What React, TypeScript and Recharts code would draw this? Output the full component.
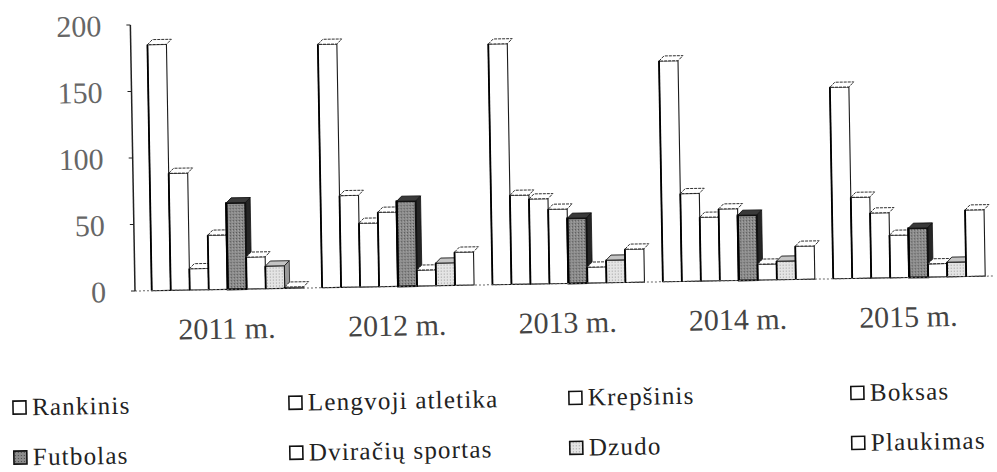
import React from 'react';
import { BarChart, Bar, XAxis, YAxis } from 'recharts';

const years = ['2011 m.', '2012 m.', '2013 m.', '2014 m.', '2015 m.'];
const rankinis = [185, 183, 181, 166, 144];
const lengvoji = [88, 69, 67, 66, 61];
const krepsinis = [16, 48, 64, 48, 49];
const boksas = [41, 56, 56, 54, 32];
const futbolas = [65, 64, 49, 49, 37];
const dviraciu = [24, 12, 12, 12, 10];
const dzudo = [17, 17, 17, 14, 11];
const plaukimas = [1, 25, 25, 25, 50];
const yTicks = [0, 50, 100, 150, 200];

const seriesNames = ['Rankinis', 'Lengvoji atletika', 'Krepšinis', 'Boksas', 'Futbolas', 'Dviračių sportas', 'Dzudo', 'Plaukimas'];
const seriesKeys = ['rankinis', 'lengvoji', 'krepsinis', 'boksas', 'futbolas', 'dviraciu', 'dzudo', 'plaukimas'];
const seriesValues = [rankinis, lengvoji, krepsinis, boksas, futbolas, dviraciu, dzudo, plaukimas];

const whiteStyle = { kind: 'white', front: '#ffffff', top: '#ffffff', side: '#ffffff', stroke: '#1a1a1a' };
const darkStyle = { kind: 'dark', front: 'url(#darkDots)', top: '#3a3a3a', side: '#262626', stroke: '#111111' };
const lightStyle = { kind: 'light', front: 'url(#lightDots)', top: '#c4c4c4', side: '#9a9a9a', stroke: '#1a1a1a' };
const seriesStyles = [whiteStyle, whiteStyle, whiteStyle, whiteStyle, darkStyle, whiteStyle, lightStyle, whiteStyle];

const data = years.map((year, i) => {
  const row: Record<string, string | number> = { year };
  seriesKeys.forEach((k, s) => {
    row[k] = seriesValues[s][i];
  });
  return row;
});

const FONT = 'Liberation Serif';
const DX = 5;
const DY = 5;

function Box3D(props: any) {
  const { x, y, width, height, look } = props;
  if (x == null || y == null) return null;
  const w = width;
  const h = Math.max(height, 0);
  const top = `${x},${y} ${x + DX},${y - DY} ${x + w + DX},${y - DY} ${x + w},${y}`;
  const side = `${x + w},${y} ${x + w + DX},${y - DY} ${x + w + DX},${y + h - DY} ${x + w},${y + h}`;
  const heavy = look.kind === 'dark';
  const white = look.kind === 'white';
  return (
    <g>
      <polygon points={side} fill={look.side} stroke={white ? 'none' : look.stroke} strokeWidth={0.8} />
      <rect x={x} y={y} width={w} height={h} fill={look.front} stroke={look.stroke} strokeWidth={heavy ? 2 : 1.1} />
      <polygon points={top} fill={look.top} stroke={look.stroke} strokeWidth={0.9} strokeDasharray={white ? '3 1' : undefined} />
      <line x1={x} y1={y} x2={x} y2={y + h} stroke="#000" strokeWidth={heavy ? 2.2 : 1.8} />
    </g>
  );
}

const legendCols = [10, 286, 566, 848];
const legendRows = [405.5, 455.5];

function LegendBlock() {
  return (
    <svg width={997} height={472} style={{ position: 'absolute', left: 0, top: 0, pointerEvents: 'none' }}>
      <defs>
        <pattern id="darkDotsL" width="3" height="3" patternUnits="userSpaceOnUse">
          <rect width="3" height="3" fill="#8c8c8c" />
          <rect x="0" y="0" width="1" height="1" fill="#4a4a4a" />
        </pattern>
        <pattern id="lightDotsL" width="3" height="3" patternUnits="userSpaceOnUse">
          <rect width="3" height="3" fill="#e4e4e4" />
          <rect x="0" y="0" width="1" height="1" fill="#9a9a9a" />
        </pattern>
      </defs>
      {seriesNames.map((name, i) => {
        const look = seriesStyles[i];
        const cx = legendCols[i % 4];
        const cy = legendRows[Math.floor(i / 4)];
        const swatch = look.kind === 'dark' ? 'url(#darkDotsL)' : look.kind === 'light' ? 'url(#lightDotsL)' : '#ffffff';
        return (
          <g key={name}>
            <rect x={cx + 1} y={cy - 6.5} width={13} height={13} fill={swatch} stroke="#111" strokeWidth={1.6} />
            <text x={cx + 20} y={cy + 8} fontFamily={FONT} fontSize={25} letterSpacing={1.2} fill="#222">
              {name}
            </text>
          </g>
        );
      })}
    </svg>
  );
}

export default function App() {
  return (
    <div style={{ position: 'absolute', left: 0, top: 0, width: 997, height: 472, overflow: 'hidden', background: '#fff' }}>
      <div style={{ position: 'absolute', left: 0, top: 0, width: 997, height: 472, transform: 'rotate(-1deg)', transformOrigin: '135px 291px' }}>
        <BarChart
          width={997}
          height={472}
          data={data}
          margin={{ top: 25, right: 4, left: 0, bottom: 121 }}
          barCategoryGap="6.3%"
          barGap={0}
        >
          <defs>
            <pattern id="darkDots" width="3" height="3" patternUnits="userSpaceOnUse">
              <rect width="3" height="3" fill="#8c8c8c" />
              <rect x="0" y="0" width="1" height="1" fill="#4a4a4a" />
              <rect x="2" y="1" width="1" height="1" fill="#b0b0b0" />
            </pattern>
            <pattern id="lightDots" width="3" height="3" patternUnits="userSpaceOnUse">
              <rect width="3" height="3" fill="#e4e4e4" />
              <rect x="0" y="0" width="1" height="1" fill="#9a9a9a" />
            </pattern>
          </defs>
          <XAxis
            dataKey="year"
            interval={0}
            height={60}
            padding={{ left: 6, right: 0 }}
            tickSize={0}
            tickMargin={28}
            axisLine={{ stroke: '#666', strokeDasharray: '2 2' }}
            tickLine={false}
            tick={{ fontSize: 30, fill: '#444', fontFamily: FONT }}
          />
          <YAxis
            domain={[0, 200]}
            ticks={yTicks}
            width={135}
            tickSize={4}
            tickMargin={25}
            axisLine={{ stroke: '#222', strokeWidth: 1.5 }}
            tickLine={{ stroke: '#222' }}
            tick={{ fontSize: 30, fill: '#666', fontFamily: FONT }}
          />
          {seriesKeys.map((k, i) => (
            <Bar
              key={k}
              dataKey={k}
              name={seriesNames[i]}
              isAnimationActive={false}
              shape={(p: any) => <Box3D {...p} look={seriesStyles[i]} />}
            />
          ))}
        </BarChart>
        <LegendBlock />
      </div>
    </div>
  );
}
